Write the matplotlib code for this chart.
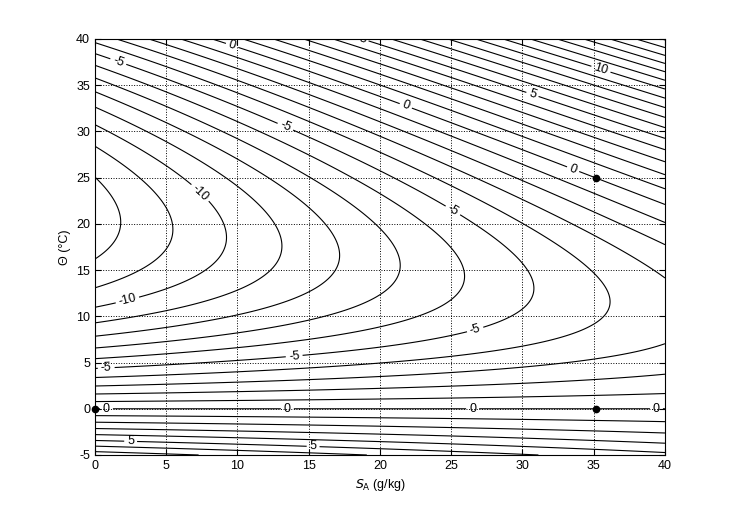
import numpy as np
import matplotlib
matplotlib.use("Agg")
import matplotlib.pyplot as plt

plt.rcParams['font.family'] = ['Liberation Sans', 'DejaVu Sans']
plt.rcParams['axes.unicode_minus'] = False
plt.rcParams['contour.negative_linestyle'] = 'solid'

# ---- contour readings from the reference: (S_A, Theta, contour level) ----
read_S = [0]*28 + [1.8, 5.4, 9.3, 13.1, 16.9, 21.1, 25.3, 29.9, 35.1] + \
    [2.5, 5.4, 7.4, 7.4, 2.5, 8.3, 10.7, 13.1, 13.1, 16.6, 15.0, 19.7, 20.4,
     24.9, 26.3, 26.8, 14.1, 13.3, 1.6, 26.3, 31.7, 34.6] + \
    [40]*14 + [8.5, 18.4, 28.9, 21.7, 35.2, 30.7, 35.5] + \
    [13.1]*8 + [15.35] + [27.2]*8
read_T = [-4.5, -4.1, -3.6, -3.0, -2.3, -1.6, -0.7, 0.75, 1.55, 2.4, 3.25, 4.0,
          5.1, 6.4, 7.7, 9.4, 11.0, 13.3, 16.5, 25.3, 28.4, 30.4, 32.5, 34.3,
          36.0, 37.2, 38.4, 39.7] + \
    [19.9, 19.0, 18.0, 17.7, 16.2, 15.4, 13.8, 13.5, 12.0] + \
    [25.6, 25.6, 22.9, 14.1, 11.75, 25.6, 12.65, 23.4, 11.6, 25.6, 9.8, 25.6, 9.8,
     20.9, 19.7, 8.6, 5.25, 30.3, 37.4, 22.5, 19.4, 9.9] + \
    [-4.4, -3.5, -2.6, -1.3, 1.8, 4.0, 8.0, 13.6, 17.8, 20.1, 22.2, 23.9, 29.4, 34.5] + \
    [40, 40, 40, 32.3, 25.0, 34.0, 36.7] + \
    [-0.64, -1.5, -2.4, -3.5, 0.96, 1.9, 2.9, 4.2] + [-4.4] + \
    [-1.2, -2.1, -3.0, -3.9, 1.1, 2.2, 3.5, 5.6]
read_L = [7, 6, 5, 4, 3, 2, 1, -1, -2, -3, -4, -5, -6, -7, -8, -9, -10, -11, -12,
          -12, -11, -10, -9, -8, -7, -6, -5, -4] + \
    [-12, -11, -10, -9, -8, -7, -6, -5, -4] + \
    [-11, -10, -10, -10, -10, -9, -9, -8, -8, -7, -7, -6, -6,
     -5, -5, -5, -5, -5, -5, -4, -4, -4] + \
    [4, 3, 2, 1, -1, -2, -3, -3, -2, -1, 0, 1, 5, 10] + \
    [0, 5, 10, 0, 0, 5, 10] + \
    [1, 2, 3, 4, -1, -2, -3, -4] + [5] + \
    [1, 2, 3, 4, -1, -2, -3, -4]

# marked reference points
dot_S = [0.0, 35.16504, 35.16504]
dot_T = [0.0, 0.0, 25.0]

levels = np.arange(-15, 26, 1)
label_levels = [-10, -5, 0, 5, 10]
label_pos = [(1.6, 37.4), (9.6, 39.2), (18.4, 39.6), (35.5, 36.7), (30.7, 34.0),
             (13.3, 30.3), (21.7, 32.3), (33.5, 25.7), (7.1, 22.9), (24.9, 20.9),
             (2.3, 11.6), (26.6, 9.0), (14.0, 5.3), (0.8, 4.0),
             (0.8, 0.0), (13.5, 0.0), (26.5, 0.0), (39.4, 0.0),
             (2.5, -3.6), (15.3, -4.4)]

xticks = np.arange(0, 41, 5)
yticks = np.arange(-5, 41, 5)

# ---- smooth surface through the readings (least squares, zero on Theta = 0) ----
powers = [(0, 0), (0, 1), (0, 2), (0, 3), (1, 0), (1, 1), (1, 2), (2, 0), (2, 1)]
S_r = np.array(read_S, float)
T_r = np.array(read_T, float)
L_r = np.array(read_L, float)
A = np.column_stack([T_r * S_r**i * T_r**j for i, j in powers])
coef, *_ = np.linalg.lstsq(A, L_r, rcond=None)

Sg, Tg = np.meshgrid(np.linspace(0, 40, 321), np.linspace(-5, 40, 361))
Z = sum(c * Tg * Sg**i * Tg**j for c, (i, j) in zip(coef, powers))

fig = plt.figure(figsize=(7.33, 5.07), dpi=100)
ax = fig.add_axes([0.1296, 0.1026, 0.7776, 0.8205])
plain_levels = [v for v in levels if v not in label_levels]
ax.contour(Sg, Tg, Z, levels=plain_levels, colors='k', linewidths=0.8,
           linestyles='solid')
cs_lab = ax.contour(Sg, Tg, Z, levels=label_levels, colors='k', linewidths=0.8,
                    linestyles='solid')
cs_lab.clabel(inline=True, fontsize=9, fmt='%d', manual=label_pos,
              inline_spacing=3)
ax.plot(dot_S, dot_T, 'o', color='k', markersize=4.5, zorder=5, clip_on=False)

ax.set_xlim(0, 40)
ax.set_ylim(-5, 40)
ax.set_xticks(xticks)
ax.set_yticks(yticks)
ax.grid(True, linestyle=':', color='k', linewidth=0.7)
ax.tick_params(direction='in', top=True, right=True, length=4, labelsize=9)
for s in ax.spines.values():
    s.set_linewidth(0.8)
ax.set_xlabel(r'$S_{\mathrm{A}}$ (g/kg)', fontsize=9)
ax.set_ylabel('\u0398 (\u00b0C)', fontsize=9)
fig.savefig('out.png', dpi=100, facecolor='white')
